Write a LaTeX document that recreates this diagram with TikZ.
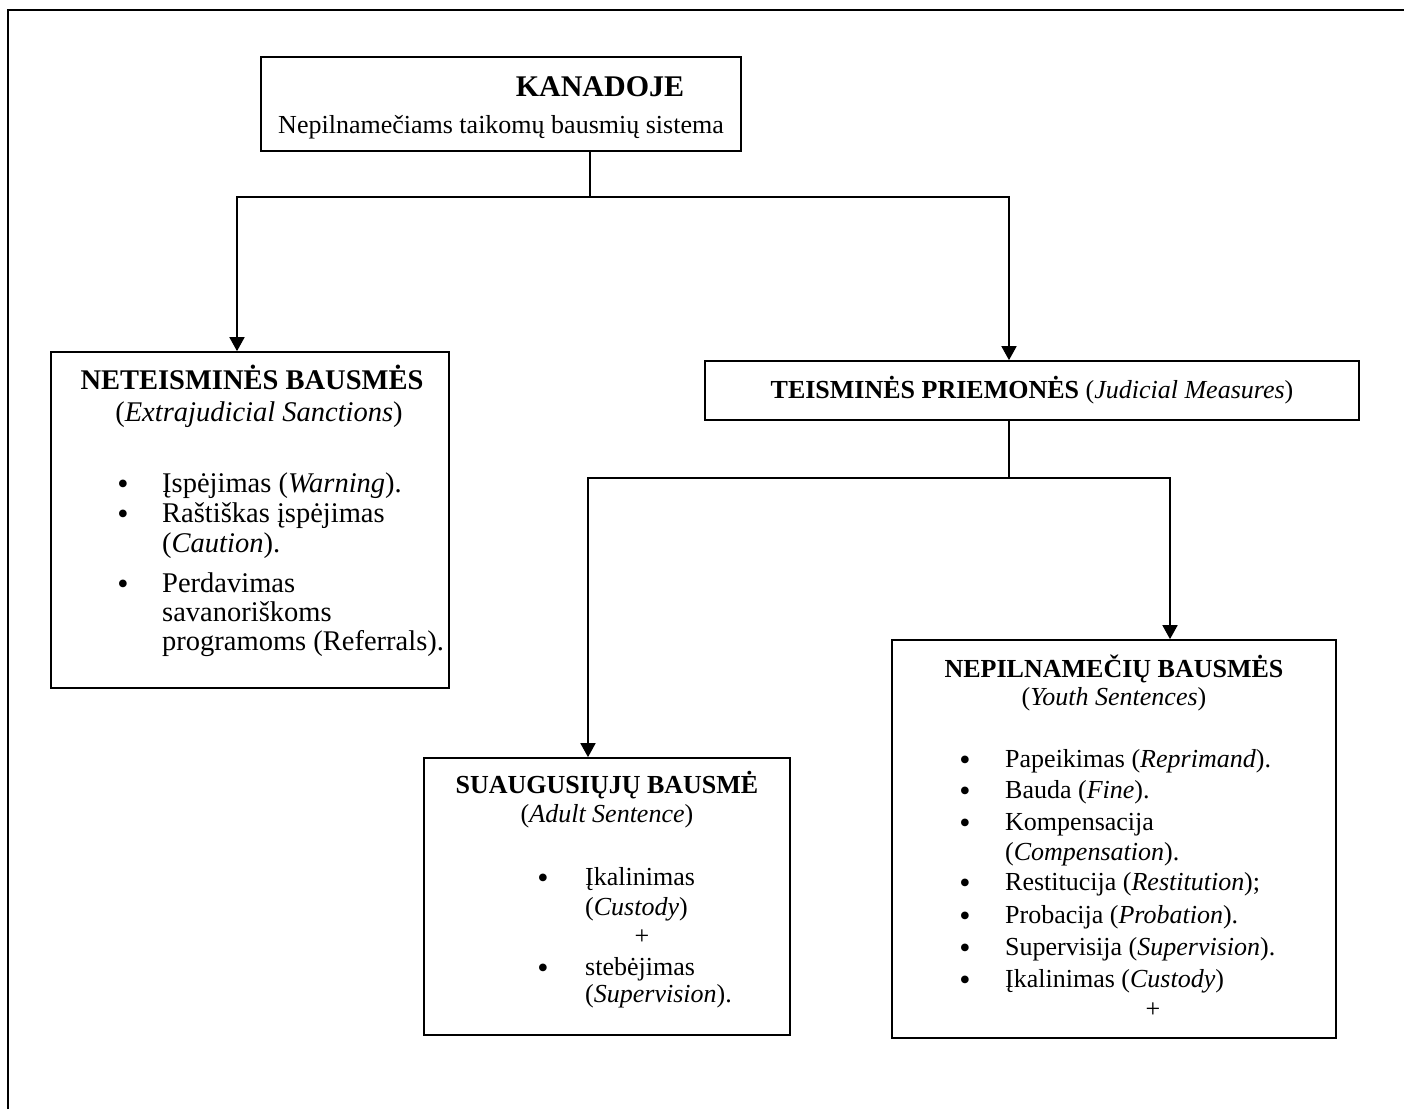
\documentclass[tikz,border=0pt]{standalone}
\usepackage{fontspec}
\setmainfont{Liberation Serif}
\usetikzlibrary{arrows.meta}
\begin{document}
\begin{tikzpicture}[x=1pt,y=-1pt,
  box/.style={draw, line width=1.7pt, inner sep=0pt},
  conn/.style={line width=1.7pt},
  arr/.style={conn, -{Triangle[width=15pt,length=14pt]}},
  txt/.style={anchor=base, inner sep=0pt, font=\fontsize{26}{30}\selectfont},
  txtl/.style={anchor=base west, inner sep=0pt, font=\fontsize{26}{30}\selectfont},
  big/.style={anchor=base, inner sep=0pt, font=\fontsize{28.5}{30}\selectfont},
  bigl/.style={anchor=base west, inner sep=0pt, font=\fontsize{28.5}{30}\selectfont},
  ttl/.style={anchor=base, inner sep=0pt, font=\fontsize{30}{34}\selectfont\bfseries},
  bul/.style={anchor=center, inner sep=0pt, yshift=-4pt, font=\fontsize{32}{30}\selectfont},
]
\useasboundingbox (0,0) rectangle (1404,1109);
% outer frame (clipped by page edge)
\draw[line width=2pt] (8,1109) -- (8,10) -- (1404,10);

% boxes
\node[box, minimum width=480pt, minimum height=94pt] (top) at (501,104) {};
\node[box, minimum width=398pt, minimum height=336pt] (neteis) at (250,520) {};
\node[box, minimum width=654pt, minimum height=59pt] (teism) at (1032,390.5) {};
\node[box, minimum width=366pt, minimum height=277pt] (suaug) at (607,896.5) {};
\node[box, minimum width=444pt, minimum height=398pt] (nepiln) at (1114,839) {};

% connectors
\coordinate (s1) at (590,197);
\coordinate (aL) at (237,197);
\coordinate (aR) at (1009,197);
\draw[arr] (top.south -| s1) |- (aL) -- (aL |- neteis.north);
\draw[arr] (s1) -| (aR |- teism.north);
\coordinate (s2) at (1009,478);
\coordinate (bL) at (588,478);
\coordinate (bR) at (1170,478);
\draw[arr] (teism.south -| s2) |- (bL) -- (bL |- suaug.north);
\draw[arr] (s2) -| (bR |- nepiln.north);

% top box text
\node[ttl] (t1) at (600,96) {KANADOJE};
\node[txt] (t2) at (501,133) {Nepilnamečiams taikomų bausmių sistema};

% left box
\node[big, font=\fontsize{28.5}{30}\selectfont\bfseries] (n1) at (252,389) {NETEISMINĖS BAUSMĖS};
\node[big] (n2) at (259,421) {(\textit{Extrajudicial Sanctions})};
\node[bul] (nb1) at (123,483) {•};
\node[bul] (nb2) at (123,513) {•};
\node[bul] (nb3) at (123,583) {•};
\node[bigl] (n3) at (162,492) {Įspėjimas (\textit{Warning}).};
\node[bigl] (n4) at (162,522) {Raštiškas įspėjimas};
\node[bigl] (n5) at (162,552) {(\textit{Caution}).};
\node[bigl] (n6) at (162,592) {Perdavimas};
\node[bigl] (n7) at (162,621) {savanoriškoms};
\node[bigl] (n8) at (162,650) {programoms (Referrals).};

% judicial box
\node[txt] (j1) at (1032,398) {\textbf{TEISMINĖS PRIEMONĖS} (\textit{Judicial Measures})};

% adult box
\node[txt, font=\fontsize{26}{30}\selectfont\bfseries] (a1) at (607,793) {SUAUGUSIŲJŲ BAUSMĖ};
\node[txt] (a2) at (607,822) {(\textit{Adult Sentence})};
\node[bul] (ab1) at (543,877) {•};
\node[bul] (ab2) at (543,967) {•};
\node[txtl] (a3) at (585,885) {Įkalinimas};
\node[txtl] (a4) at (585,915) {(\textit{Custody})};
\node[txt] (a5) at (642,944) {+};
\node[txtl] (a6) at (585,975) {stebėjimas};
\node[txtl] (a7) at (585,1002) {(\textit{Supervision}).};

% youth box
\node[txt, font=\fontsize{26}{30}\selectfont\bfseries] (y1) at (1114,677) {NEPILNAMEČIŲ BAUSMĖS};
\node[txt] (y2) at (1114,705) {(\textit{Youth Sentences})};
\node[bul] (yb1) at (965,759) {•};
\node[bul] (yb2) at (965,790) {•};
\node[bul] (yb3) at (965,822) {•};
\node[bul] (yb4) at (965,882) {•};
\node[bul] (yb5) at (965,915) {•};
\node[bul] (yb6) at (965,947) {•};
\node[bul] (yb7) at (965,979) {•};
\node[txtl] (y3) at (1005,767) {Papeikimas (\textit{Reprimand}).};
\node[txtl] (y4) at (1005,798) {Bauda (\textit{Fine}).};
\node[txtl] (y5) at (1005,830) {Kompensacija};
\node[txtl] (y6) at (1005,860) {(\textit{Compensation}).};
\node[txtl] (y7) at (1005,890) {Restitucija (\textit{Restitution});};
\node[txtl] (y8) at (1005,923) {Probacija (\textit{Probation}).};
\node[txtl] (y9) at (1005,955) {Supervisija (\textit{Supervision}).};
\node[txtl] (y10) at (1005,987) {Įkalinimas (\textit{Custody})};
\node[txt] (y11) at (1153,1017) {+};
\end{tikzpicture}
\end{document}
